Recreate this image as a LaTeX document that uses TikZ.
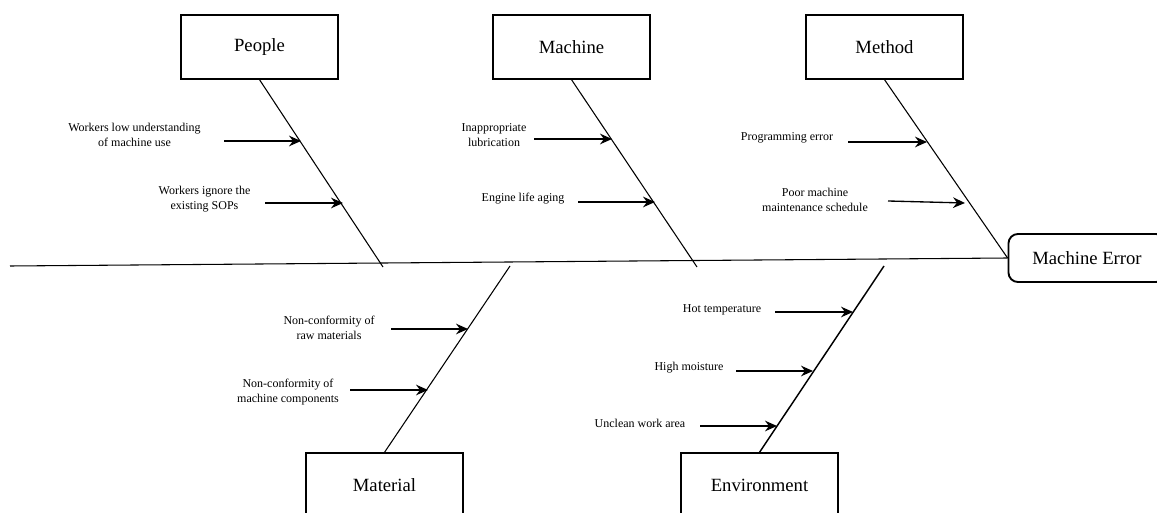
\documentclass[tikz,border=0pt]{standalone}
\usepackage{fontspec}
\setmainfont{Liberation Serif}
\usetikzlibrary{arrows.meta,positioning}

\begin{document}
\begin{tikzpicture}[x=0.75pt,y=-0.75pt,
        catbox/.style={draw,line width=1pt,minimum width=117.75pt,minimum height=48pt,font=\fontsize{14}{16}\selectfont},
        headbox/.style={catbox,line width=1.4pt,rounded corners=7pt,minimum height=36pt},
        cause/.style={align=center,font=\fontsize{9}{11.2}\selectfont},
        bone/.style={line width=0.8pt},
        causearrow/.style={line width=1pt,-{Stealth[length=9pt,width=8pt,inset=3pt]}}]
        \useasboundingbox (0,0) rectangle (1157,513);
        % head and spine
        \node[headbox] (err) at (1087,258) {Machine Error};
        \coordinate (tail) at (10,266);
        \draw[bone] (tail) -- (err.west);
        % category boxes
        \node[catbox] (people) at (259.5,47) {People};
        \node[catbox] (machine) at (571.5,47) {Machine};
        \node[catbox] (method) at (884.5,47) {Method};
        \node[catbox] (material) at (384.5,485) {Material};
        \node[catbox] (env) at (759.5,485) {Environment};
        % bones
        \coordinate (pj) at (383,267);
        \coordinate (mj) at (697,267);
        \coordinate (tj) at (510,266);
        \coordinate (ej) at (884,266);
        \draw[bone] (people.south) -- (pj);
        \draw[bone] (machine.south) -- (mj);
        \draw[bone] (method.south) -- (err.west);
        \draw[bone] (material.north) -- (tj);
        \draw[bone,line width=1.1pt] (env.north) -- (ej);
        % people
        \node[cause] (p1) at (134.5,135) {Workers low understanding\\of machine use};
        \node[cause] (p2) at (204.5,199.5) {Workers ignore the\\existing SOPs};
        \coordinate (p1a) at (224,141); \coordinate (p1b) at (301,141);
        \coordinate (p2a) at (265,203); \coordinate (p2b) at (343,203);
        \draw[causearrow] (p1a) -- (p1b);
        \draw[causearrow] (p2a) -- (p2b);
        % machine
        \node[cause] (m1) at (494,135) {Inappropriate\\lubrication};
        \node[cause] (m2) at (523,199) {Engine life aging};
        \coordinate (m1a) at (534,139); \coordinate (m1b) at (612,139);
        \coordinate (m2a) at (578,202); \coordinate (m2b) at (655,202);
        \draw[causearrow] (m1a) -- (m1b);
        \draw[causearrow] (m2a) -- (m2b);
        % method
        \node[cause] (t1) at (787,138) {Programming error};
        \node[cause] (t2) at (815,199.5) {Poor machine\\maintenance schedule};
        \coordinate (t1a) at (848,142); \coordinate (t1b) at (927,142);
        \coordinate (t2a) at (888,201); \coordinate (t2b) at (965,203);
        \draw[causearrow] (t1a) -- (t1b);
        \draw[causearrow] (t2a) -- (t2b);
        % material
        \node[cause] (r1) at (329,328) {Non-conformity of\\raw materials};
        \node[cause] (r2) at (288,392) {Non-conformity of\\machine components};
        \coordinate (r1a) at (391,329); \coordinate (r1b) at (468,329);
        \coordinate (r2a) at (350,390); \coordinate (r2b) at (428,390);
        \draw[causearrow] (r1a) -- (r1b);
        \draw[causearrow] (r2a) -- (r2b);
        % environment
        \node[cause] (e1) at (722,310) {Hot temperature};
        \node[cause] (e2) at (689,368) {High moisture};
        \node[cause] (e3) at (640,423) {Unclean work area};
        \coordinate (e1a) at (775,312); \coordinate (e1b) at (853,312);
        \coordinate (e2a) at (736,371); \coordinate (e2b) at (813,371);
        \coordinate (e3a) at (700,426); \coordinate (e3b) at (777,426);
        \draw[causearrow] (e1a) -- (e1b);
        \draw[causearrow] (e2a) -- (e2b);
        \draw[causearrow] (e3a) -- (e3b);
    \end{tikzpicture}
\end{document}
